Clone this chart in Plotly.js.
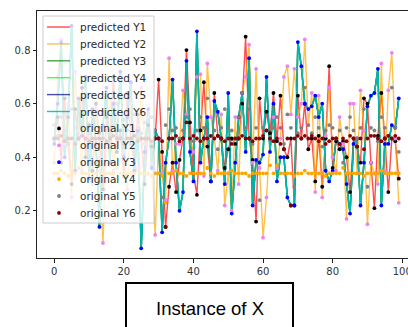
<!DOCTYPE html>
<html>
<head>
<meta charset="utf-8">
<script src="https://cdn.plot.ly/plotly-3.0.1.min.js"></script>
<style>
html,body{margin:0;padding:0;overflow:hidden;background:#fff;}
#chart{width:416px;height:327px;}
</style>
</head>
<body>
<div id="chart"></div>
<script>
// ---- data ----
const instances = Array.from({length: 100}, (_, i) => i);

const origY1 = [0.47,0.55,0.38,0.62,0.45,0.30,0.58,0.47,0.66,0.40,0.52,0.35,0.60,0.47,0.28,0.55,0.47,0.70,0.42,0.50,0.33,0.64,0.47,0.38,0.56,0.47,0.30,0.52,0.44,0.47,
0.69,0.42,0.14,0.29,0.38,0.27,0.39,0.47,0.80,0.53,0.34,0.26,0.50,0.68,0.44,0.31,0.64,0.48,0.47,0.36,
0.43,0.47,0.45,0.47,0.60,0.85,0.47,0.39,0.16,0.62,0.47,0.57,0.49,0.64,0.46,0.63,0.43,0.40,0.47,0.22,
0.63,0.47,0.60,0.43,0.47,0.31,0.48,0.29,0.47,0.74,0.36,0.46,0.43,0.46,0.40,0.27,0.47,0.44,0.38,0.62,
0.60,0.38,0.21,0.48,0.64,0.47,0.27,0.47,0.46,0.32];

const origY2 = [0.38,0.70,0.84,0.45,0.60,0.25,0.72,0.50,0.35,0.65,0.48,0.30,0.58,0.40,0.08,0.45,0.62,0.35,0.55,0.70,0.42,0.28,0.60,0.50,0.36,0.66,0.45,0.55,0.38,0.11,
0.47,0.34,0.24,0.77,0.35,0.45,0.45,0.65,0.56,0.47,0.42,0.70,0.71,0.33,0.75,0.55,0.47,0.35,0.56,0.22,
0.34,0.20,0.55,0.30,0.64,0.70,0.82,0.38,0.73,0.36,0.10,0.25,0.47,0.55,0.36,0.47,0.70,0.74,0.56,0.73,
0.55,0.60,0.84,0.52,0.64,0.27,0.63,0.25,0.48,0.66,0.40,0.35,0.55,0.45,0.17,0.60,0.60,0.34,0.65,0.50,
0.15,0.38,0.34,0.30,0.75,0.35,0.65,0.79,0.47,0.23];

const origY3 = [0.45,0.60,0.83,0.40,0.55,0.89,0.35,0.62,0.48,0.70,0.32,0.58,0.45,0.14,0.52,0.66,0.38,0.60,0.47,0.72,0.40,0.55,0.68,0.35,0.50,0.06,0.42,0.58,0.36,0.50,
0.47,0.12,0.38,0.47,0.69,0.38,0.20,0.27,0.76,0.42,0.31,0.87,0.38,0.47,0.55,0.31,0.61,0.57,0.47,0.30,
0.64,0.19,0.38,0.55,0.64,0.42,0.77,0.22,0.39,0.38,0.41,0.70,0.42,0.60,0.31,0.40,0.40,0.25,0.22,0.22,
0.83,0.74,0.60,0.58,0.59,0.63,0.55,0.60,0.35,0.31,0.35,0.47,0.45,0.43,0.30,0.19,0.45,0.47,0.22,0.38,
0.59,0.63,0.64,0.73,0.22,0.45,0.45,0.52,0.51,0.62];

const origY4 = [0.34,0.34,0.35,0.34,0.33,0.34,0.34,0.36,0.34,0.34,0.34,0.33,0.34,0.35,0.34,0.34,0.34,0.34,0.36,0.34,0.33,0.34,0.34,0.34,0.35,0.34,0.34,0.34,0.33,0.34,
0.34,0.33,0.23,0.34,0.34,0.35,0.34,0.34,0.33,0.34,0.34,0.34,0.34,0.34,0.36,0.34,0.33,0.34,0.34,0.34,
0.34,0.35,0.34,0.34,0.34,0.34,0.33,0.34,0.34,0.34,0.34,0.34,0.37,0.34,0.37,0.34,0.34,0.34,0.34,0.33,
0.34,0.34,0.35,0.34,0.34,0.34,0.34,0.34,0.33,0.34,0.34,0.34,0.34,0.36,0.34,0.34,0.34,0.34,0.34,0.33,
0.34,0.34,0.34,0.34,0.35,0.34,0.34,0.34,0.34,0.34];

const origY5 = [0.52,0.48,0.55,0.50,0.45,0.58,0.51,0.47,0.53,0.62,0.49,0.55,0.44,0.51,0.57,0.50,0.46,0.52,0.60,0.48,0.54,0.50,0.45,0.56,0.51,0.49,0.53,0.47,0.55,0.50,
0.47,0.25,0.52,0.58,0.50,0.51,0.47,0.50,0.55,0.58,0.46,0.50,0.55,0.51,0.62,0.48,0.50,0.43,0.51,0.58,
0.51,0.50,0.47,0.55,0.64,0.51,0.58,0.45,0.51,0.24,0.51,0.50,0.47,0.51,0.55,0.51,0.45,0.56,0.51,0.29,
0.49,0.51,0.66,0.52,0.49,0.55,0.51,0.44,0.50,0.52,0.51,0.47,0.50,0.38,0.51,0.55,0.50,0.47,0.51,0.58,
0.29,0.51,0.50,0.46,0.55,0.51,0.48,0.66,0.51,0.42];

const origY6 = [0.47,0.47,0.48,0.46,0.47,0.47,0.45,0.47,0.48,0.47,0.46,0.47,0.47,0.49,0.47,0.46,0.47,0.48,0.47,0.47,0.45,0.47,0.47,0.48,0.46,0.47,0.47,0.47,0.46,0.47,
0.47,0.46,0.14,0.47,0.47,0.48,0.46,0.47,0.53,0.47,0.48,0.47,0.46,0.47,0.47,0.48,0.47,0.48,0.47,0.46,
0.47,0.45,0.47,0.47,0.48,0.47,0.47,0.46,0.47,0.47,0.48,0.50,0.47,0.46,0.47,0.45,0.43,0.47,0.22,0.47,
0.48,0.47,0.48,0.47,0.48,0.47,0.46,0.47,0.45,0.46,0.47,0.47,0.45,0.47,0.46,0.48,0.47,0.44,0.47,0.43,
0.47,0.48,0.48,0.47,0.46,0.47,0.48,0.47,0.48,0.47];

const predY1 = [0.47,0.55,0.38,0.62,0.45,0.30,0.58,0.47,0.66,0.40,0.52,0.35,0.60,0.47,0.28,0.55,0.47,0.70,0.42,0.50,0.33,0.64,0.47,0.38,0.56,0.47,0.30,0.52,0.44,0.47,
0.69,0.42,0.14,0.29,0.38,0.27,0.39,0.47,0.80,0.53,0.34,0.26,0.50,0.68,0.44,0.31,0.64,0.48,0.47,0.36,
0.43,0.47,0.45,0.47,0.60,0.85,0.47,0.39,0.16,0.62,0.47,0.57,0.49,0.64,0.46,0.63,0.43,0.40,0.47,0.22,
0.63,0.47,0.60,0.43,0.47,0.31,0.48,0.29,0.47,0.74,0.36,0.46,0.43,0.46,0.40,0.27,0.47,0.44,0.38,0.62,
0.60,0.38,0.21,0.48,0.64,0.47,0.27,0.47,0.46,0.32];

const predY2 = [0.38,0.70,0.84,0.45,0.60,0.25,0.72,0.50,0.35,0.65,0.48,0.30,0.58,0.40,0.08,0.45,0.62,0.35,0.55,0.70,0.42,0.28,0.60,0.50,0.36,0.66,0.45,0.55,0.38,0.11,
0.47,0.34,0.24,0.77,0.35,0.45,0.45,0.65,0.56,0.47,0.42,0.70,0.71,0.33,0.75,0.55,0.47,0.35,0.56,0.22,
0.34,0.20,0.55,0.30,0.64,0.70,0.82,0.38,0.73,0.36,0.10,0.25,0.47,0.55,0.36,0.47,0.70,0.74,0.56,0.73,
0.55,0.60,0.84,0.52,0.64,0.27,0.63,0.25,0.48,0.66,0.40,0.35,0.55,0.45,0.17,0.60,0.60,0.34,0.65,0.50,
0.15,0.38,0.34,0.30,0.75,0.35,0.65,0.79,0.47,0.23];

const predY3 = [0.45,0.60,0.83,0.40,0.55,0.89,0.35,0.62,0.48,0.70,0.32,0.58,0.45,0.14,0.52,0.66,0.38,0.60,0.47,0.72,0.40,0.55,0.68,0.35,0.50,0.06,0.42,0.58,0.36,0.50,
0.47,0.12,0.38,0.47,0.69,0.38,0.20,0.27,0.76,0.42,0.31,0.87,0.38,0.47,0.55,0.31,0.61,0.57,0.47,0.30,
0.64,0.19,0.38,0.55,0.64,0.42,0.77,0.22,0.39,0.38,0.41,0.70,0.42,0.60,0.31,0.40,0.40,0.25,0.22,0.22,
0.83,0.74,0.60,0.58,0.59,0.63,0.55,0.60,0.35,0.31,0.35,0.47,0.45,0.43,0.30,0.19,0.45,0.47,0.22,0.38,
0.59,0.63,0.64,0.73,0.22,0.45,0.45,0.52,0.51,0.62];

const predY4 = [0.45,0.60,0.83,0.40,0.55,0.89,0.35,0.62,0.48,0.70,0.32,0.58,0.45,0.14,0.52,0.66,0.38,0.60,0.47,0.72,0.40,0.55,0.68,0.35,0.50,0.06,0.42,0.58,0.36,0.50,
0.47,0.12,0.38,0.47,0.69,0.38,0.20,0.27,0.76,0.42,0.31,0.87,0.38,0.47,0.55,0.31,0.61,0.57,0.47,0.30,
0.64,0.19,0.38,0.55,0.64,0.42,0.77,0.22,0.39,0.38,0.41,0.70,0.42,0.60,0.31,0.40,0.40,0.25,0.22,0.22,
0.83,0.74,0.60,0.58,0.59,0.63,0.55,0.60,0.35,0.31,0.35,0.47,0.45,0.43,0.30,0.19,0.45,0.47,0.22,0.38,
0.59,0.63,0.64,0.73,0.22,0.45,0.45,0.52,0.51,0.62];

const predY5 = [0.45,0.60,0.83,0.40,0.55,0.89,0.35,0.62,0.48,0.70,0.32,0.58,0.45,0.14,0.52,0.66,0.38,0.60,0.47,0.72,0.40,0.55,0.68,0.35,0.50,0.06,0.42,0.58,0.36,0.50,
0.47,0.12,0.38,0.47,0.69,0.38,0.20,0.27,0.76,0.42,0.31,0.87,0.38,0.47,0.55,0.31,0.61,0.57,0.47,0.30,
0.64,0.19,0.38,0.55,0.64,0.42,0.77,0.22,0.39,0.38,0.41,0.70,0.42,0.60,0.31,0.40,0.40,0.25,0.22,0.22,
0.83,0.74,0.60,0.58,0.59,0.63,0.55,0.60,0.35,0.31,0.35,0.47,0.45,0.43,0.30,0.19,0.45,0.47,0.22,0.38,
0.59,0.63,0.64,0.73,0.22,0.45,0.45,0.52,0.51,0.62];

const predY6 = [0.45,0.60,0.83,0.40,0.55,0.89,0.35,0.62,0.48,0.70,0.32,0.58,0.45,0.14,0.52,0.66,0.38,0.60,0.47,0.72,0.40,0.55,0.68,0.35,0.50,0.06,0.42,0.58,0.36,0.50,
0.47,0.12,0.38,0.47,0.69,0.38,0.20,0.27,0.76,0.42,0.31,0.87,0.38,0.47,0.55,0.31,0.61,0.57,0.47,0.30,
0.64,0.19,0.38,0.55,0.64,0.42,0.77,0.22,0.39,0.38,0.41,0.70,0.42,0.60,0.31,0.40,0.40,0.25,0.22,0.22,
0.83,0.74,0.60,0.58,0.59,0.63,0.55,0.60,0.35,0.31,0.35,0.47,0.45,0.43,0.30,0.19,0.45,0.47,0.22,0.38,
0.59,0.63,0.64,0.73,0.22,0.45,0.45,0.52,0.51,0.62];

const xTicks = [0, 20, 40, 60, 80, 100];
const yTicks = [0.2, 0.4, 0.6, 0.8];
const legendNames = ['predicted Y1','predicted Y2','predicted Y3','predicted Y4','predicted Y5','predicted Y6',
                     'original Y1','original Y2','original Y3','original Y4','original Y5','original Y6'];
const boxLabel = 'Instance of X';

// ---- styles ----
const predColors = ['#ff0000','#ffa500','#008000','#00ff00','#000080','#00bfbf'];
const predOpacity = [0.7, 0.7, 0.7, 0.7, 0.7, 0.9];
const origColors = ['#000000','#ee82ee','#0000ff','#ffa500','#808080','#8b0000'];
const predData = [predY1, predY2, predY3, predY4, predY5, predY6];
const origData = [origY1, origY2, origY3, origY4, origY5, origY6];

const traces = [];
// draw order: hidden Y4/Y5 first, then Y1, Y2, Y3, Y6
[3, 4, 0, 1, 2, 5].forEach(k => {
  traces.push({
    x: instances, y: predData[k], type: 'scatter', mode: 'lines',
    name: legendNames[k], opacity: predOpacity[k],
    line: {color: predColors[k], width: k === 5 ? 1.6 : 1.4}, showlegend: false, hoverinfo: 'skip'
  });
});
for (let k = 0; k < 6; k++) {
  traces.push({
    x: instances, y: origData[k], type: 'scatter', mode: 'markers',
    name: legendNames[6 + k],
    marker: {color: origColors[k], size: 3.8, line: {width: 0}}, showlegend: false, hoverinfo: 'skip'
  });
}

// plot area geometry in px (for paper conversions of decorations)
const W = 416, H = 327, ML = 37, MR = 0, MT = 11, MB = 69;
const PW = W - ML - MR, PH = H - MT - MB;
const px2x = p => (p - ML) / PW;
const px2y = p => (H - MB - p) / PH;

const shapes = [];
const annotations = [];
// custom legend box
shapes.push({type: 'rect', xref: 'paper', yref: 'paper', layer: 'above',
  x0: px2x(43), x1: px2x(154), y0: px2y(223), y1: px2y(16),
  fillcolor: 'rgba(255,255,255,0.8)', line: {color: '#cccccc', width: 1}});
for (let k = 0; k < 12; k++) {
  const py = 27 + 16.9 * k;
  if (k < 6) {
    shapes.push({type: 'line', xref: 'paper', yref: 'paper', layer: 'above',
      x0: px2x(47), x1: px2x(70), y0: px2y(py), y1: px2y(py),
      opacity: predOpacity[k], line: {color: predColors[k], width: 1.4}});
  } else {
    const r = 1.9;
    shapes.push({type: 'circle', xref: 'paper', yref: 'paper', layer: 'above',
      x0: px2x(59 - r), x1: px2x(59 + r), y0: px2y(py + r), y1: px2y(py - r),
      fillcolor: origColors[k - 6], line: {width: 0}});
  }
  annotations.push({text: legendNames[k], xref: 'paper', yref: 'paper',
    x: px2x(78), y: px2y(py), xanchor: 'left', yanchor: 'middle', showarrow: false,
    font: {family: 'DejaVu Sans', size: 10.5, color: '#2a2a2a'}});
}
// boxed label below the plot
shapes.push({type: 'rect', xref: 'paper', yref: 'paper', layer: 'above',
  x0: px2x(126), x1: px2x(293), y0: px2y(335), y1: px2y(283),
  fillcolor: 'rgba(0,0,0,0)', line: {color: '#000000', width: 2}});
annotations.push({text: boxLabel, xref: 'paper', yref: 'paper',
  x: px2x(209.5), y: px2y(308), xanchor: 'center', yanchor: 'middle', showarrow: false,
  font: {family: 'Liberation Sans', size: 18.5, color: '#000000'}});

const axisCommon = {
  showgrid: false, zeroline: false, showline: true, mirror: true,
  linecolor: '#222222', linewidth: 1, ticks: 'outside', ticklen: 3.5, tickwidth: 1,
  tickcolor: '#222222', tickfont: {family: 'DejaVu Sans', size: 10, color: '#333333'}
};

const layout = {
  width: W, height: H,
  margin: {l: ML, r: MR, t: MT, b: MB, pad: 0},
  paper_bgcolor: '#ffffff', plot_bgcolor: '#ffffff',
  showlegend: false,
  xaxis: Object.assign({}, axisCommon, {range: [-4.95, 103.95], tickvals: xTicks, ticktext: xTicks.map(String)}),
  yaxis: Object.assign({}, axisCommon, {range: [0.024, 0.946], tickvals: yTicks, ticktext: yTicks.map(v => v.toFixed(1))}),
  shapes: shapes,
  annotations: annotations
};

Plotly.newPlot('chart', traces, layout, {displayModeBar: false, staticPlot: true});
</script>
</body>
</html>
